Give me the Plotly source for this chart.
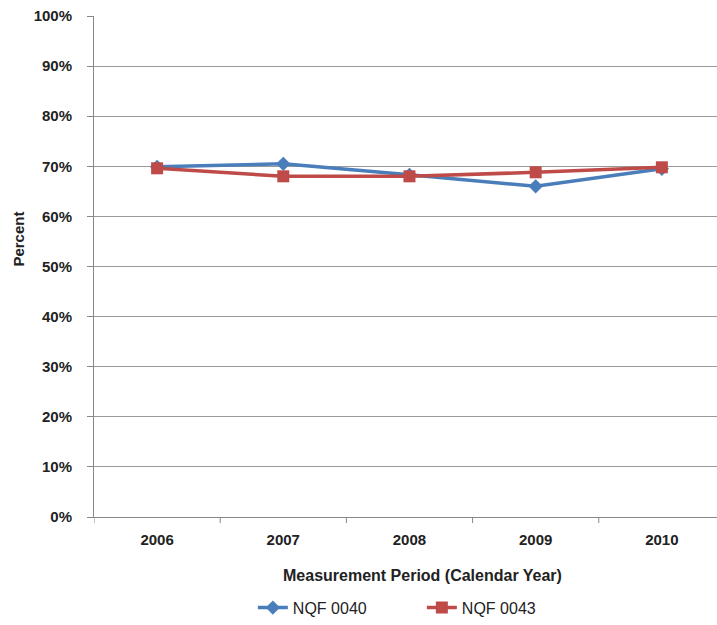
import plotly.graph_objects as go

years = ["2006", "2007", "2008", "2009", "2010"]
nqf_0040 = [69.9, 70.5, 68.3, 66.0, 69.5]
nqf_0043 = [69.6, 68.0, 68.0, 68.8, 69.8]
y_ticks = [0, 10, 20, 30, 40, 50, 60, 70, 80, 90, 100]

FONT = "Liberation Sans, Arial"
TXT = "#222"
fig = go.Figure()
fig.add_trace(go.Scatter(x=list(range(len(years))), y=nqf_0040, name="NQF 0040", mode="lines+markers",
                         line=dict(color="#4a7ebb", width=3.5),
                         marker=dict(symbol="diamond", size=11, color="#4a7ebb")))
fig.add_trace(go.Scatter(x=list(range(len(years))), y=nqf_0043, name="NQF 0043", mode="lines+markers",
                         line=dict(color="#be4b48", width=3.5),
                         marker=dict(symbol="square", size=12, color="#be4b48")))

fig.update_layout(
    width=717, height=625,
    paper_bgcolor="white", plot_bgcolor="white",
    margin=dict(l=94, r=0, t=16, b=88),
    font=dict(family=FONT, size=15, color=TXT),
    showlegend=True,
    legend=dict(orientation="h", x=0.255, xanchor="left", y=-0.147, yanchor="top",
                entrywidth=124, entrywidthmode="pixels",
                font=dict(family=FONT, size=16, color=TXT), tracegroupgap=0),
    xaxis=dict(
        tickmode="array", tickvals=list(range(len(years))), ticktext=["<b>%s</b>" % y for y in years],
        range=[-0.5, 4.437], showgrid=False, showline=True, linecolor="#888", linewidth=1,
        ticks="", zeroline=False, ticklabelstandoff=9, automargin=False,
        tickfont=dict(size=15, family=FONT, color=TXT),
    ),
    yaxis=dict(
        range=[0, 100], tickmode="array", tickvals=y_ticks, ticktext=["<b>%d%%</b>" % v for v in y_ticks],
        showgrid=True, gridcolor="#9a9a9a", gridwidth=1, showline=True, linecolor="#888", linewidth=1,
        ticks="outside", ticklen=6, tickcolor="#888", zeroline=False, ticklabelstandoff=12, automargin=False,
        tickfont=dict(size=15, family=FONT, color=TXT),
    ),
)
fig.add_annotation(text="<b>Measurement Period (Calendar Year)</b>", xref="paper", yref="paper",
                   x=0.527, y=-0.117, xanchor="center", yanchor="middle", showarrow=False,
                   font=dict(size=16, family=FONT, color=TXT))
fig.add_annotation(text="<b>Percent</b>", xref="paper", yref="paper", textangle=-90,
                   x=-0.121, y=0.555, xanchor="center", yanchor="middle", showarrow=False,
                   font=dict(size=15, family=FONT, color=TXT))
# category separator tick marks on the x axis
for i in range(len(years)):
    fig.add_shape(type="line", xref="x", yref="paper", x0=i - 0.5, x1=i - 0.5, y0=0, y1=-0.012,
                  line=dict(color="#888", width=1))
fig.write_html("out.html", config={"displayModeBar": False},
               post_script="document.body.style.margin='0';")
